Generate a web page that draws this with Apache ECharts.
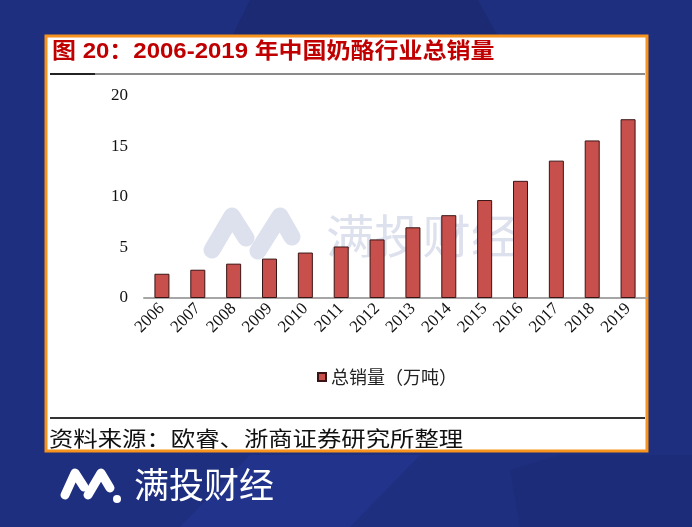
<!DOCTYPE html>
<html>
<head>
<meta charset="utf-8">
<script src="https://cdn.jsdelivr.net/npm/echarts@6/dist/echarts.min.js"></script>
<style>
  html, body { margin: 0; padding: 0; background: #1f2f80; }
  #chart { width: 692px; height: 527px; }
</style>
</head>
<body>
<div id="chart"></div>
<script>
// 数据
const years = ['2006', '2007', '2008', '2009', '2010', '2011', '2012', '2013', '2014', '2015', '2016', '2017', '2018', '2019']
const sales = [2.4, 2.8, 3.4, 3.9, 4.5, 5.1, 5.8, 7.0, 8.2, 9.7, 11.6, 13.6, 15.6, 17.7]
const seriesName = '总销量（万吨）'
const titleText = '图 20：2006-2019 年中国奶酪行业总销量'
const sourceText = '资料来源：欧睿、浙商证券研究所整理'

const serif = '"Liberation Serif", "Times New Roman", serif'
const cjk = '"Noto Sans CJK SC", sans-serif'

let option = {
  backgroundColor: '#1f2f80',
  animation: false,
  graphic: [
    // 背景色块
    { type: 'polygon', z: -5, silent: true,
      shape: { points: [[250, 0], [478, 0], [500, 40], [230, 40]] },
      style: { fill: '#1b2a72' } },
    { type: 'polygon', z: -5, silent: true,
      shape: { points: [[180, 527], [250, 455], [420, 455], [350, 527]] },
      style: { fill: '#21338a' } },
    { type: 'polygon', z: -5, silent: true,
      shape: { points: [[520, 527], [510, 470], [560, 455], [692, 455], [692, 527]] },
      style: { fill: '#1d2c78' } },
    // 白色框
    { type: 'rect', z: -4, silent: true,
      shape: { x: 46, y: 36, width: 601, height: 415 },
      style: { fill: '#ffffff', stroke: '#f7941d', lineWidth: 3 } },
    // 标题
    { type: 'text', z: 5, silent: true, x: 52, y: 52, scaleX: 1.09,
      style: { text: titleText, fill: '#c00000', fontSize: 22, fontWeight: 'bold',
        fontFamily: '"Liberation Sans", Arial, "Noto Sans CJK SC"', textAlign: 'left', textVerticalAlign: 'middle' } },
    { type: 'line', z: 5, silent: true,
      shape: { x1: 50, y1: 74, x2: 645, y2: 74 },
      style: { stroke: '#8c8c8c', lineWidth: 2 } },
    { type: 'line', z: 5, silent: true,
      shape: { x1: 50, y1: 74, x2: 95, y2: 74 },
      style: { stroke: '#222', lineWidth: 2 } },
    // 来源
    { type: 'line', z: 5, silent: true,
      shape: { x1: 50, y1: 418, x2: 645, y2: 418 },
      style: { stroke: '#333', lineWidth: 2 } },
    { type: 'text', z: 5, silent: true, x: 49, y: 438, scaleX: 1.16,
      style: { text: sourceText, fill: '#111', fontSize: 21, fontFamily: cjk,
        textAlign: 'left', textVerticalAlign: 'middle' } },
    // 水印
    { type: 'polyline', z: 0, silent: true,
      shape: { points: [[212, 250], [232, 216], [246, 238]] },
      style: { stroke: '#dde0ed', lineWidth: 17, lineCap: 'round', lineJoin: 'round', fill: null } },
    { type: 'polyline', z: 0, silent: true,
      shape: { points: [[258, 251], [280, 216], [292, 237]] },
      style: { stroke: '#dde0ed', lineWidth: 17, lineCap: 'round', lineJoin: 'round', fill: null } },
    { type: 'text', z: 0, silent: true, x: 326, y: 236, scaleX: 1.05,
      style: { text: '满投财经', fill: '#dde0ed', fontSize: 46, fontFamily: cjk,
        textAlign: 'left', textVerticalAlign: 'middle' } },
    // 底部logo
    { type: 'polyline', z: 5, silent: true,
      shape: { points: [[65, 495], [75, 473], [84, 487]] },
      style: { stroke: '#ffffff', lineWidth: 9, lineCap: 'round', lineJoin: 'round', fill: null } },
    { type: 'polyline', z: 5, silent: true,
      shape: { points: [[88, 495], [101, 473], [110, 488]] },
      style: { stroke: '#ffffff', lineWidth: 9, lineCap: 'round', lineJoin: 'round', fill: null } },
    { type: 'circle', z: 5, silent: true,
      shape: { cx: 117, cy: 499, r: 4 },
      style: { fill: '#ffffff' } },
    { type: 'text', z: 5, silent: true, x: 134, y: 485,
      style: { text: '满投财经', fill: '#ffffff', fontSize: 35, fontFamily: cjk,
        textAlign: 'left', textVerticalAlign: 'middle' } }
  ],
  grid: {
    left: 144,
    right: 46,
    top: 96,
    bottom: 229
  },
  legend: {
    top: 363,
    left: 312,
    icon: 'rect',
    itemWidth: 8,
    itemHeight: 8,
    itemGap: 6,
    textStyle: { fontSize: 18, fontFamily: cjk, color: '#222' },
    data: [seriesName]
  },
  xAxis: {
    type: 'category',
    data: years,
    axisLine: { lineStyle: { color: '#a6a6a6', width: 2 } },
    axisTick: { show: false },
    axisLabel: { rotate: 45, fontSize: 17, fontFamily: serif, color: '#111', margin: 8, interval: 0 }
  },
  yAxis: {
    type: 'value',
    min: 0,
    max: 20,
    interval: 5,
    axisLine: { show: false },
    axisTick: { show: false },
    splitLine: { show: false },
    axisLabel: { fontSize: 17, fontFamily: serif, color: '#111', margin: 16 }
  },
  series: [{
    name: seriesName,
    type: 'bar',
    data: sales,
    barWidth: 15,
    itemStyle: { color: '#c8504c', borderColor: '#3a1414', borderWidth: 1 }
  }]
}

let chart = echarts.init(document.getElementById('chart'))
chart.setOption(option)
</script>
</body>
</html>
